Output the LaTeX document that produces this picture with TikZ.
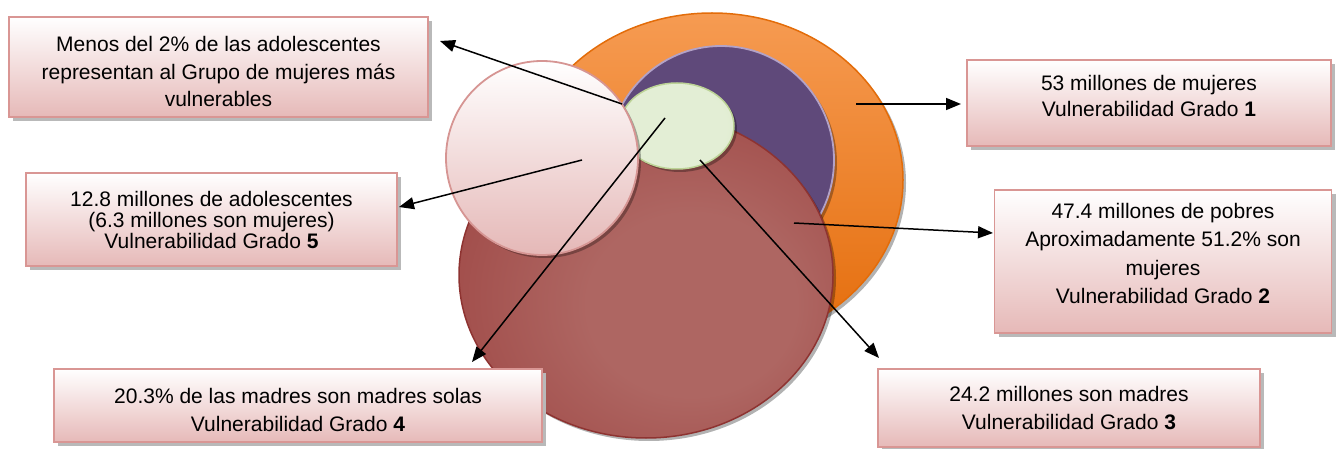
\documentclass[tikz,border=0pt]{standalone}
\usepackage{fontspec}
\setmainfont{Liberation Sans}
\usetikzlibrary{arrows.meta,shapes.geometric,shadows}
\definecolor{boxborder}{HTML}{D99694}
\definecolor{boxbottom}{HTML}{E6B9B8}
\definecolor{orangetop}{HTML}{F69B52}
\definecolor{orangebot}{HTML}{E46C0A}
\definecolor{orangeline}{HTML}{E36C09}
\definecolor{purplefill}{HTML}{5F497A}
\definecolor{purpleline}{HTML}{B3A2C7}
\definecolor{maroonout}{HTML}{993D3B}
\definecolor{maroonin}{HTML}{AE6662}
\definecolor{maroonline}{HTML}{8E3331}
\definecolor{pinkbot}{HTML}{E5B8B7}
\definecolor{pinkline}{HTML}{D69593}
\definecolor{greenin}{HTML}{E3EED5}
\definecolor{greenout}{HTML}{D4E4BA}
\definecolor{greenline}{HTML}{BCD396}
\pgfdeclareradialshading{maroonsh}{\pgfpoint{8bp}{-6bp}}{color(0bp)=(maroonin); color(14bp)=(maroonin); color(42bp)=(maroonout); color(60bp)=(maroonout)}
\pgfdeclareradialshading{greensh}{\pgfpoint{-6bp}{0bp}}{color(0bp)=(greenin); color(25bp)=(greenin); color(50bp)=(greenout); color(60bp)=(greenout)}
\tikzset{
  infobox/.style={draw=boxborder, line width=1.8pt, top color=white, bottom color=boxbottom,
    align=center, inner sep=0pt, font=\fontsize{21}{27.5}\selectfont,
    drop shadow={shadow xshift=4pt, shadow yshift=-4pt, fill=gray!55, opacity=1}},
  blob/.style={ellipse, inner sep=0pt,
    drop shadow={shadow xshift=3pt, shadow yshift=-3pt, fill=black, opacity=0.3}},
  arr/.style={line width=1.5pt, -{Triangle[length=15pt,width=12pt]}}
}
\begin{document}
\begin{tikzpicture}[x=1pt,y=-1pt]
\useasboundingbox (0,0) rectangle (1336,449);
% shapes
\node[blob, draw=orangeline, line width=1.5pt, top color=orangetop, bottom color=orangebot,
  minimum width=382pt, minimum height=334pt] (orange) at (712,180) {};
\node[blob, draw=purpleline, line width=1.8pt, fill=purplefill,
  minimum width=226pt, minimum height=228pt] (purple) at (721,160) {};
\node[blob, draw=maroonline, line width=1.5pt, shading=maroonsh,
  minimum width=374pt, minimum height=326pt] (maroon) at (646,275) {};
\node[blob, draw=greenline, line width=1.5pt, shading=greensh,
  minimum width=114pt, minimum height=86pt] (green) at (677,126) {};
\node[blob, draw=pinkline, line width=1.8pt, top color=white, bottom color=pinkbot,
  minimum width=192pt, minimum height=194pt] (pink) at (542,158) {};
% boxes
\node[infobox, minimum width=419pt, minimum height=100pt] (b1) at (218.5,67)
  {\\[-3pt]Menos del 2\% de las adolescentes\\ representan al Grupo de mujeres más\\ vulnerables};
\node[infobox, minimum width=371pt, minimum height=93pt, font=\fontsize{21}{21}\selectfont] (b5) at (211.5,219.5)
  {12.8 millones de adolescentes\\ (6.3 millones son mujeres)\\ Vulnerabilidad Grado \textbf{5}};
\node[infobox, minimum width=488pt, minimum height=73pt] (b4) at (298,405.5)
  {\\[-3pt]20.3\% de las madres son madres solas\\ Vulnerabilidad Grado \textbf{4}};
\node[infobox, minimum width=382pt, minimum height=78pt] (b3) at (1069,408)
  {24.2 millones son madres\\ Vulnerabilidad Grado \textbf{3}};
\node[infobox, minimum width=364pt, minimum height=86pt, font=\fontsize{21}{26}\selectfont] (bone) at (1149,103)
  {53 millones de mujeres\\ Vulnerabilidad Grado \textbf{1}\\[-12pt]};
\node[infobox, minimum width=337pt, minimum height=143pt, font=\fontsize{21}{28.5}\selectfont] (b2) at (1163,261.5)
  {47.4 millones de pobres\\ Aproximadamente 51.2\% son\\ mujeres\\ Vulnerabilidad Grado \textbf{2}\\[-12pt]};
% connector ends
\coordinate (s1) at (622,104);  \coordinate (t1) at (440,41);
\coordinate (s5) at (582,160);  \coordinate (t5) at (399,207);
\coordinate (s4) at (665,118);  \coordinate (t4) at (472,362);
\coordinate (s3) at (700,160);  \coordinate (t3) at (879,358);
\coordinate (sone) at (856,104); \coordinate (tone) at (961,104);
\coordinate (s2) at (794,223);  \coordinate (t2) at (993,233);
\draw[arr] (s1) -- (t1);
\draw[arr] (s5) -- (t5);
\draw[arr] (s4) -- (t4);
\draw[arr] (s3) -- (t3);
\draw[arr] (sone) -- (tone);
\draw[arr] (s2) -- (t2);
\end{tikzpicture}
\end{document}
